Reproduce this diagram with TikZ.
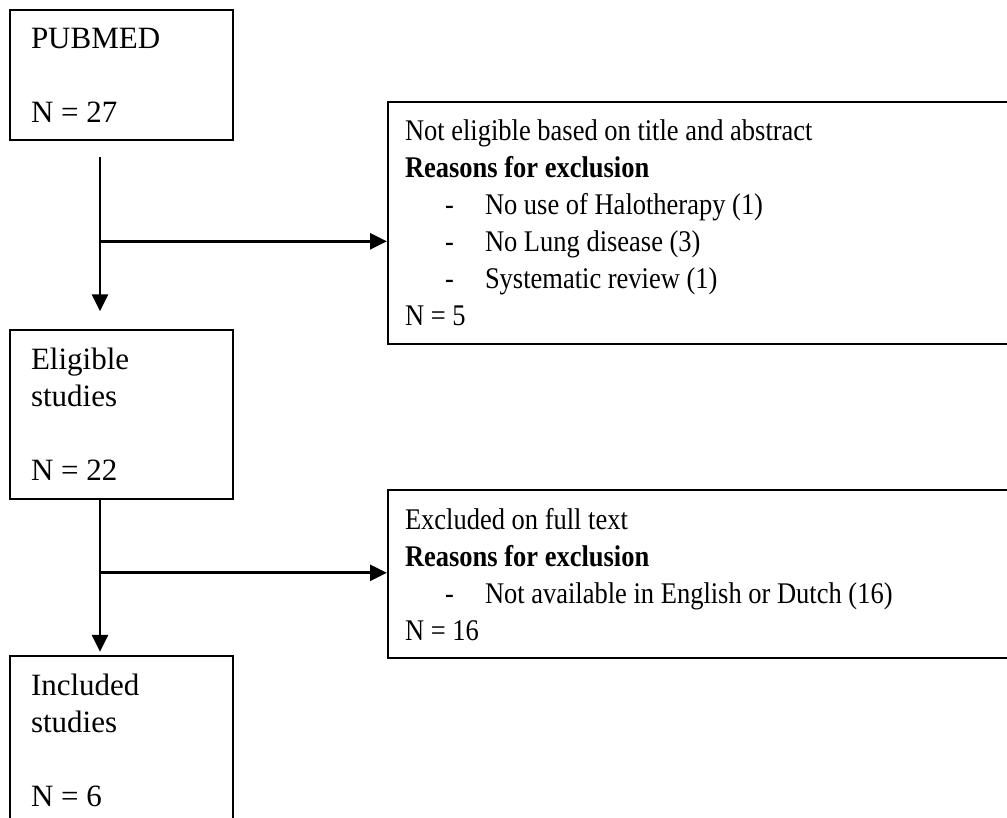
\documentclass[tikz,border=0pt]{standalone}
\usepackage{fontspec}
\setmainfont{Liberation Serif}
\newfontfamily\narrowserif{Liberation Serif}[FakeStretch=0.883]
\usetikzlibrary{arrows.meta,positioning}
\newcommand{\exclitem}[1]{\hspace*{40pt}\makebox[40pt][l]{-}#1}

\begin{document}
\begin{tikzpicture}[x=1pt, y=-1pt, >={Triangle[length=17pt,width=16pt]},
    flowbox/.style={draw, line width=2pt, align=flush left, anchor=north west,
        inner xsep=21pt, inner ysep=18pt, text width=181pt,
        font=\fontsize{31}{37}\selectfont},
    exclbox/.style={flowbox, inner xsep=17pt, text width=650pt,
        font=\narrowserif\fontsize{30}{37}\selectfont},
    flow/.style={->, line width=2.8pt}]
\useasboundingbox (0,0) rectangle (1007,817);
\clip (0,0) rectangle (1007,817);
% left column
\node[flowbox] (pubmed) at (9,9) {PUBMED\\ \mbox{}\\ N = 27};
\node[flowbox, below=188pt of pubmed.south west, anchor=north west] (elig)
    {Eligible\\ studies\\ \mbox{}\\ N = 22};
\node[flowbox, below=155pt of elig.south west, anchor=north west] (incl)
    {Included\\ studies\\ \mbox{}\\ N = 6};
% exclusions
\node[exclbox] (excl1) at (387,101) {Not eligible based on title and abstract\\
    \textbf{Reasons for exclusion}\\
    \exclitem{No use of Halotherapy (1)}\\
    \exclitem{No Lung disease (3)}\\
    \exclitem{Systematic review (1)}\\
    N = 5};
\node[exclbox] (excl2) at (387,489) {Excluded on full text\\
    \textbf{Reasons for exclusion}\\
    \exclitem{Not available in English or Dutch (16)}\\
    N = 16};
\coordinate (split1) at ([xshift=91pt,yshift=-100pt]pubmed.south west);
\coordinate (split2) at ([xshift=91pt,yshift=-73pt]elig.south west);
\draw[flow] ([xshift=91pt,yshift=-16pt]pubmed.south west)
    -- ([xshift=91pt,yshift=18pt]elig.north west);
\draw[flow] (split1) -- (split1 -| excl1.west);
\draw[flow] ([xshift=91pt]elig.south west)
    -- ([xshift=91pt,yshift=3pt]incl.north west);
\draw[flow] (split2) -- (split2 -| excl2.west);
\end{tikzpicture}
\end{document}
